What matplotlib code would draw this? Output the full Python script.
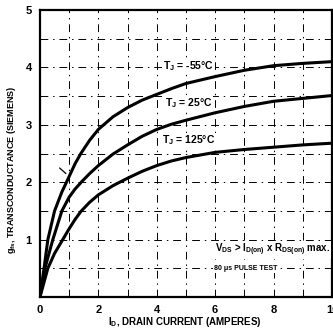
import matplotlib
matplotlib.use("Agg")
import matplotlib.pyplot as plt

plt.rcParams.update({
    "font.family": ["Liberation Sans", "DejaVu Sans"],
    "font.weight": "bold",
    "mathtext.fontset": "custom",
    "mathtext.rm": "Liberation Sans:bold",
    "mathtext.it": "Liberation Sans:bold",
    "mathtext.bf": "Liberation Sans:bold",
})

# curve data (I_D in A, g_fs in S)
x_m55 = [0, 0.14, 0.27, 0.5, 0.75, 1.0, 1.2, 1.4, 1.7, 2.0, 2.5, 3.0, 3.5, 4.0, 4.5,
         5.0, 6.0, 7.0, 8.0, 9.0, 10.0]
y_m55 = [0, 0.5, 1.0, 1.5, 1.83, 2.1, 2.32, 2.5, 2.73, 2.92, 3.14, 3.3, 3.43, 3.53, 3.63,
         3.72, 3.84, 3.95, 4.03, 4.07, 4.1]

x_25 = [0, 0.17, 0.44, 0.75, 1.0, 1.2, 1.45, 1.7, 2.0, 2.5, 3.0, 3.5, 4.0, 4.5,
        5.0, 6.0, 7.0, 8.0, 9.0, 10.0]
y_25 = [0, 0.5, 1.0, 1.5, 1.74, 1.88, 2.02, 2.15, 2.29, 2.49, 2.65, 2.8, 2.92, 3.01,
        3.08, 3.21, 3.32, 3.41, 3.46, 3.51]

x_125 = [0, 0.27, 0.5, 0.78, 1.0, 1.2, 1.4, 1.7, 2.0, 2.5, 3.0, 3.5, 4.0, 4.5,
         5.0, 6.0, 7.0, 8.0, 9.0, 10.0]
y_125 = [0, 0.5, 0.76, 1.0, 1.19, 1.35, 1.49, 1.65, 1.78, 1.94, 2.07, 2.19, 2.29, 2.37,
         2.43, 2.52, 2.57, 2.61, 2.65, 2.68]

x_ticks = [0, 2, 4, 6, 8, 10]
y_ticks = [1, 2, 3, 4, 5]
x_grid = [1, 2, 3, 4, 5, 6, 7, 8, 9]
y_grid = [0.5, 1, 1.5, 2, 2.5, 3, 3.5, 4, 4.5]

fig = plt.figure(figsize=(3.33, 3.33), dpi=100)
ax = fig.add_axes([0.120, 0.108, 0.877, 0.862])

GRID = dict(color="black", lw=0.7, ls=(0, (8, 5, 1.5, 5)), zorder=1)
for gx in x_grid:
    ax.axvline(gx, **GRID)
for gy in y_grid:
    ax.axhline(gy, **GRID)

for xs, ys in [(x_m55, y_m55), (x_25, y_25), (x_125, y_125)]:
    ax.plot(xs, ys, color="black", lw=2.2, solid_capstyle="round",
            solid_joinstyle="round", zorder=3)

ax.set_xlim(0, 10)
ax.set_ylim(0, 5)
ax.set_xticks(x_ticks)
ax.set_xticklabels([str(v) for v in x_ticks])
ax.set_yticks(y_ticks)
ax.set_yticklabels([str(v) for v in y_ticks])
ax.tick_params(length=0, labelsize=8, pad=6)
for s in ax.spines.values():
    s.set_linewidth(1.6)

BOX = dict(facecolor="white", edgecolor="none", pad=0.5)
TXT = dict(fontsize=7.5, ha="center", va="center", zorder=4, bbox=BOX)
ax.text(5.1, 4.02, r"T$_\mathrm{J}$ = -55°C", **TXT)
ax.text(5.1, 3.38, r"T$_\mathrm{J}$ = 25°C", **TXT)
ax.text(5.1, 2.73, r"T$_\mathrm{J}$ = 125°C", **TXT)
ax.text(9.95, 0.82, r"V$_\mathrm{DS}$ > I$_\mathrm{D(on)}$ x R$_\mathrm{DS(on)}$ max.",
        fontsize=7, ha="right", va="center", zorder=4, bbox=BOX)
ax.text(7.03, 0.5, "80 μs PULSE TEST", fontsize=5, ha="center", va="center",
        zorder=4, bbox=BOX)

ax.annotate("", xy=(0.96, 2.12), xytext=(0.6, 2.28),
            arrowprops=dict(arrowstyle="-", color="black", lw=0.9))

fig.text(185 / 333, 1 - 322 / 333, r"I$_\mathrm{D}$, DRAIN CURRENT (AMPERES)",
         fontsize=7, ha="center", va="center")
fig.text(12 / 333, 1 - 170 / 333, r"g$_\mathrm{fs}$, TRANSCONDUCTANCE (SIEMENS)",
         fontsize=6.5, ha="center", va="center", rotation=90)

fig.savefig("out.png", dpi=100)
